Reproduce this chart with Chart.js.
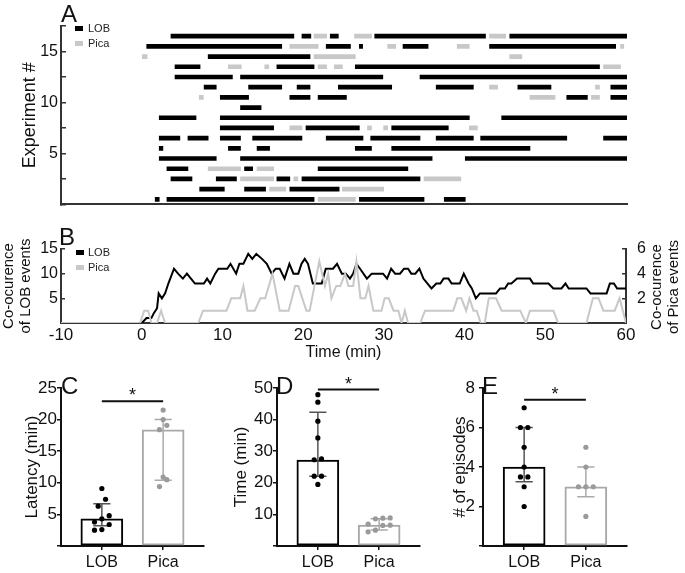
<!DOCTYPE html>
<html>
<head>
<meta charset="utf-8">
<script src="https://cdn.jsdelivr.net/npm/chart.js@4.4.1/dist/chart.umd.min.js"></script>
<style>
  body { margin: 0; background: #fff; }
  #wrap { position: relative; width: 685px; height: 573px; overflow: hidden;
          font-family: 'Liberation Sans', Arial, sans-serif; color: #111; }
  canvas { position: absolute; }
  .letter { position: absolute; font-size: 24px; line-height: 1; }
  .box { position: absolute; width: 8px; height: 5px; }
  .txt { position: absolute; font-size: 11px; line-height: 12px; color: #222; }
  .rtitle { position: absolute; left: 599px; top: 270px; width: 130px; height: 34px;
            font-size: 15px; line-height: 17px; text-align: center; transform: rotate(-90deg); }
</style>
</head>
<body>
<div id="wrap">
  <canvas id="chartA" width="685" height="222" style="left:0;top:0"></canvas>
  <canvas id="chartB" width="685" height="143" style="left:0;top:222px"></canvas>
  <canvas id="chartC" width="225" height="208" style="left:0;top:365px"></canvas>
  <canvas id="chartD" width="215" height="208" style="left:225px;top:365px"></canvas>
  <canvas id="chartE" width="245" height="208" style="left:440px;top:365px"></canvas>

  <div class="letter" style="left:61px;top:2px">A</div>
  <div class="letter" style="left:59px;top:225px">B</div>
  <div class="letter" style="left:61px;top:374px">C</div>
  <div class="letter" style="left:276px;top:374px">D</div>
  <div class="letter" style="left:482px;top:374px">E</div>

  <div class="box" style="left:75px;top:26px;background:#000"></div>
  <div class="txt" style="left:88px;top:22px">LOB</div>
  <div class="box" style="left:75px;top:41px;background:#c8c8c8"></div>
  <div class="txt" style="left:88px;top:37px">Pica</div>

  <div class="box" style="left:76px;top:250px;background:#000"></div>
  <div class="txt" style="left:88px;top:246px">LOB</div>
  <div class="box" style="left:76px;top:265px;background:#c8c8c8"></div>
  <div class="txt" style="left:88px;top:261px">Pica</div>

  <div class="rtitle">Co-ocurence<br>of Pica events</div>
</div>

<script>
// ---- panel A: episodes per experiment, [start, end] in min (index 0 = experiment 1)
const experiments = [1, 2, 3, 4, 5, 6, 7, 8, 9, 10, 11, 12, 13, 14, 15, 16, 17];
const lobEpisodes = [
  [[1.65, 2.15], [3.1, 21.3], [26.9, 34.9], [37.4, 40.0]],
  [[7.15, 10.2], [12.7, 15.3], [18.3, 24.4]],
  [[3.6, 6.2], [9.2, 11.7], [16.7, 18.3], [19.8, 34.4]],
  [[3.1, 5.7], [12.7, 13.7], [21.8, 32.9]],
  [[2.15, 9.2], [12.2, 35.9], [40.0, 60]],
  [[2.15, 2.6], [10.7, 12.2], [14.25, 15.8], [26.4, 28.4], [30.9, 48.0]],
  [[2.15, 4.7], [5.7, 8.2], [9.7, 12.2], [13.7, 19.8], [22.8, 27.35], [28.3, 34.4], [36.4, 41.0], [41.9, 52.55], [57.1, 60]],
  [[9.7, 16.3], [20.3, 26.9], [30.9, 37.9]],
  [[2.15, 6.7], [9.7, 40.5], [44.5, 60]],
  [[12.2, 14.75]],
  [[9.7, 13.2], [18.3, 20.8], [21.8, 25.3], [52.55, 55.1], [58.0, 60]],
  [[7.7, 9.2], [13.2, 17.3], [19.2, 20.8], [24.3, 30.9], [36.4, 41.0], [46.5, 50.6], [58.0, 60]],
  [[4.1, 11.2], [12.2, 29.8], [34.4, 60]],
  [[4.1, 7.2], [16.7, 21.3], [26.4, 56.6]],
  [[8.2, 20.8]],
  [[0.6, 17.3], [22.8, 25.8], [26.9, 27.3], [32.3, 35.4], [43.0, 58.6]],
  [[3.6, 18.8], [19.8, 20.9], [23.3, 24.3], [28.8, 42.5], [45.5, 60]]
];
const picaEpisodes = [
  [[21.8, 26.4]],
  [[15.8, 17.8], [24.8, 29.9]],
  [[12.2, 16.3], [18.8, 19.3], [34.9, 39.45]],
  [[8.2, 12.2], [14.25, 16.3]],
  [],
  [],
  [],
  [[18.3, 19.8], [27.9, 28.4], [29.9, 30.4], [40.5, 41.5]],
  [],
  [],
  [[7.1, 7.6], [48.0, 51.1], [55.6, 56.6]],
  [[43.0, 44.0], [56.1, 56.6]],
  [],
  [[10.7, 12.3], [15.2, 15.7], [21.8, 22.85], [23.8, 24.8], [57.1, 59.2]],
  [[0.05, 0.65], [21.3, 26.4], [45.5, 47.0]],
  [[18.3, 21.8], [30.4, 31.4], [39.0, 40.5], [59.2, 59.6]],
  [[21.3, 22.85], [26.3, 28.4], [43.0, 45.0]]
];

// ---- panel B: co-occurrence counts over time
const lobTime = [-10, 0, 0.6, 1.2, 1.5, 1.9, 2.1, 2.5, 2.9, 3.3,
  4.0, 4.5, 5.1, 5.6, 6.1, 6.6, 7.7, 8.1, 8.5, 9.1,
  9.5, 10.6, 11.0, 11.7, 12.1, 12.6, 13.2, 13.7, 14.2, 14.9,
  15.5, 16.1, 16.6, 17.1, 17.7, 18.3, 18.8, 19.4, 19.8, 20.2,
  20.6, 21.2, 22.3, 22.8, 23.7, 24.2, 24.8, 25.3, 25.8, 26.2,
  26.6, 27.05, 27.9, 28.5, 29.9, 30.4, 30.9, 31.4, 32.0, 32.5,
  33.0, 33.4, 33.9, 34.4, 34.9, 35.9, 36.5, 37.0, 37.4, 38.0,
  38.4, 39.4, 39.9, 40.5, 40.9, 41.4, 41.9, 43.9, 44.4, 45.0,
  45.4, 45.8, 46.5, 48.1, 48.5, 50.4, 51.0, 52.0, 52.5, 52.9,
  55.1, 55.6, 57.6, 58.0, 58.5, 58.9, 60];
const lobCount = [0, 0, 1, 1, 2, 3, 6, 5, 6, 8,
  11, 10, 9, 10, 9, 8, 8, 9, 8, 10,
  11, 11, 12, 10, 12, 12, 14, 13, 14, 13,
  12, 10, 11, 11, 9, 12, 10, 10, 12, 13,
  12, 8, 8, 11, 11, 12, 10, 10, 9, 10,
  12, 11, 9, 10, 10, 9, 11, 10, 10, 11,
  11, 10, 10, 11, 9, 7, 8, 8, 9, 9,
  8, 8, 10, 8, 7, 5, 6, 6, 7, 7,
  8, 8, 9, 9, 8, 8, 7, 7, 8, 7,
  7, 6, 6, 8, 8, 7, 7];
const picaTime = [-10, -0.2, 0.3, 0.8, 1.2, 1.9, 2.4, 2.9, 7.0, 7.6,
  10.5, 11.1, 12.2, 12.6, 13.1, 14.0, 14.7, 15.3, 16.2, 17.1,
  18.2, 19.0, 19.4, 20.4, 20.8, 22.0, 22.7, 23.1, 23.5, 24.1,
  24.6, 25.2, 25.6, 26.2, 26.6, 27.1, 27.7, 28.1, 28.7, 29.7,
  30.1, 30.6, 31.2, 31.8, 32.2, 32.6, 33.0, 34.5, 35.1, 38.6,
  39.1, 39.6, 40.2, 40.6, 41.1, 41.5, 42.0, 42.5, 43.0, 43.9,
  44.6, 46.9, 47.6, 48.1, 51.0, 51.6, 55.1, 55.9, 56.6, 57.2,
  58.6, 59.2, 60];
const picaCount = [0, 0, 1, 1, 0, 0, 1, 0, 0, 1,
  1, 2, 2, 3, 1, 1, 2, 2, 4, 1,
  1, 3, 3, 1, 1, 5, 3, 4, 2, 3,
  3, 4, 3, 3, 5, 2, 2, 3, 1, 1,
  2, 2, 1, 1, 0, 1, 0, 0, 1, 1,
  2, 2, 1, 2, 1, 1, 0, 0, 2, 2,
  1, 1, 0, 1, 1, 0, 0, 2, 2, 1,
  1, 2, 0];

// ---- panels C-E: individual values, median and interquartile range
const groups = ['LOB', 'Pica'];
const latencyLob = [9.1, 7.4, 6.3, 4.8, 4.3, 3.8, 3.4, 2.6, 2.5];
const latencyPica = [21.5, 20.0, 19.1, 18.4, 10.9, 10.5, 9.4];
const latencyMedian = [4.3, 18.4];
const latencyLow = [3.2, 10.4];
const latencyHigh = [6.7, 20.0];
const latencySig = 22.9;

const timeLob = [47.9, 45.5, 39.5, 34.2, 27.6, 27.3, 22.1, 22.1, 19.5];
const timePica = [8.9, 8.8, 8.6, 6.9, 6.6, 6.5, 5.0, 4.5];
const timeMedian = [27.2, 6.6];
const timeLow = [22.1, 5.1];
const timeHigh = [42.3, 8.6];
const timeSig = 49.5;

const episodesLob = [7, 6, 6, 5, 4, 3.5, 3.5, 3, 2];
const episodesPica = [5, 4, 3, 3, 3, 1.5];
const episodesMedian = [4, 3];
const episodesLow = [3.25, 2.5];
const episodesHigh = [6, 4];
const episodesSig = 7.4;

Chart.defaults.font.family = "'Liberation Sans', Arial, sans-serif";
Chart.defaults.color = '#111';
Chart.defaults.animation = false;
Chart.defaults.plugins.legend.display = false;
Chart.defaults.plugins.tooltip.enabled = false;

const axisGray = '#333';
const lobGray = '#c8c8c8';

function episodeBars(list) {
  const out = [];
  list.forEach((eps, i) => eps.forEach(e => out.push({ x: e, y: experiments[i] - 0.5 })));
  return out;
}

function toXY(xs, ys) {
  return xs.map((x, i) => ({ x: x, y: ys[i] }));
}

// spread dots of similar value sideways
function swarm(vals, tol, dx) {
  const idx = vals.map((v, i) => i).sort((a, b) => vals[a] - vals[b]);
  const off = new Array(vals.length).fill(0);
  let i = 0;
  while (i < idx.length) {
    let j = i;
    while (j + 1 < idx.length && vals[idx[j + 1]] - vals[idx[i]] < tol) j++;
    const n = j - i + 1;
    for (let k = 0; k < n; k++) off[idx[i + k]] = (k - (n - 1) / 2) * dx;
    i = j + 1;
  }
  return off;
}

const starPlugin = {
  id: 'sigStar',
  afterDatasetsDraw(chart, args, opts) {
    if (opts.y == null) return;
    const ctx = chart.ctx;
    const x = chart.scales.x.getPixelForValue(opts.x);
    const y = chart.scales.y.getPixelForValue(opts.y);
    ctx.save();
    ctx.fillStyle = '#111';
    ctx.font = "18px 'Liberation Sans', Arial, sans-serif";
    ctx.textAlign = 'center';
    ctx.textBaseline = 'middle';
    ctx.fillText('*', x, y - 5);
    ctx.restore();
  }
};

// A
new Chart(document.getElementById('chartA'), {
  type: 'bar',
  data: {
    datasets: [
      { label: 'LOB', data: episodeBars(lobEpisodes), backgroundColor: '#000', grouped: false, barThickness: 4, borderWidth: 0 },
      { label: 'Pica', data: episodeBars(picaEpisodes), backgroundColor: lobGray, grouped: false, barThickness: 4, borderWidth: 0 }
    ]
  },
  options: {
    indexAxis: 'y',
    responsive: false,
    layout: { padding: { top: 26, right: 58, left: 0, bottom: 0 } },
    scales: {
      x: {
        type: 'linear', min: -10, max: 60, offset: false,
        grid: { drawOnChartArea: false, drawTicks: false, offset: false },
        ticks: { display: false },
        border: { color: axisGray, width: 2 },
        afterFit: s => { s.height = 9; }
      },
      y: {
        type: 'linear', min: 0, max: 17.5, offset: false,
        ticks: { stepSize: 2.5, callback: v => (v > 0 && v % 5 === 0) ? v : '', font: { size: 16 }, padding: 8 },
        grid: { drawOnChartArea: false, tickLength: -5, color: axisGray, lineWidth: 1.5, offset: false },
        border: { color: axisGray, width: 2 },
        title: { display: true, text: 'Experiment #', font: { size: 18 }, padding: { top: 19, bottom: 0 } },
        afterFit: s => { s.width = 61; }
      }
    }
  }
});

// B
new Chart(document.getElementById('chartB'), {
  type: 'line',
  data: {
    datasets: [
      { label: 'Pica', data: toXY(picaTime, picaCount), yAxisID: 'y1', borderColor: lobGray, borderWidth: 2, pointRadius: 0, order: 0 },
      { label: 'LOB', data: toXY(lobTime, lobCount), yAxisID: 'y', borderColor: '#000', borderWidth: 2, pointRadius: 0, order: 1 }
    ]
  },
  options: {
    responsive: false,
    layout: { padding: { top: 27, right: 0, left: 0, bottom: 0 } },
    scales: {
      x: {
        type: 'linear', min: -10, max: 60,
        ticks: { stepSize: 10, font: { size: 17 }, padding: 2 },
        grid: { drawOnChartArea: false, drawTicks: false },
        border: { color: axisGray, width: 2 },
        title: { display: true, text: 'Time (min)', font: { size: 16 }, padding: { top: 0, bottom: 3 } },
        afterFit: s => { s.height = 42; }
      },
      y: {
        position: 'left', min: 0, max: 15,
        ticks: { stepSize: 5, callback: v => v === 0 ? '' : v, font: { size: 16 }, padding: 7 },
        grid: { drawOnChartArea: false, tickLength: -4, color: axisGray, lineWidth: 1.5 },
        border: { color: axisGray, width: 2 },
        title: { display: true, text: ['Co-ocurence', 'of LOB events'], font: { size: 15, lineHeight: 1.133 }, padding: { top: 0.5, bottom: 0 } },
        afterFit: s => { s.width = 61; }
      },
      y1: {
        position: 'right', min: 0, max: 6,
        ticks: { stepSize: 2, callback: v => v === 0 ? '' : v, font: { size: 16 }, padding: 15 },
        grid: { drawOnChartArea: false, tickLength: -4, color: axisGray, lineWidth: 1.5 },
        border: { color: axisGray, width: 2 },
        afterFit: s => { s.width = 59; }
      }
    }
  }
});

// C, D, E
function dotPanel(id, p) {
  const cap = 0.14;
  const whisker = (g, lo, hi) => [
    { x: g - cap, y: hi }, { x: g + cap, y: hi }, { x: g, y: null },
    { x: g, y: hi }, { x: g, y: lo }, { x: g, y: null },
    { x: g - cap, y: lo }, { x: g + cap, y: lo }
  ];
  const dots = (g, vals) => {
    const off = swarm(vals, p.max * 0.045, 0.12);
    return vals.map((v, i) => ({ x: g + off[i], y: v }));
  };
  const canvas = document.getElementById(id);
  new Chart(canvas, {
    type: 'bar',
    data: {
      datasets: [
        { type: 'line', data: [{ x: 1, y: p.sig }, { x: 2, y: p.sig }], borderColor: '#111', borderWidth: 2, pointRadius: 0, order: 0 },
        { type: 'scatter', data: dots(1, p.lob), pointRadius: 2.6, pointBackgroundColor: '#000', pointBorderWidth: 0, order: 1 },
        { type: 'scatter', data: dots(2, p.pica), pointRadius: 2.6, pointBackgroundColor: '#9a9a9a', pointBorderWidth: 0, order: 1 },
        { type: 'line', data: whisker(1, p.low[0], p.high[0]), borderColor: '#555', borderWidth: 1.5, pointRadius: 0, order: 2 },
        { type: 'line', data: whisker(2, p.low[1], p.high[1]), borderColor: '#aaa', borderWidth: 1.5, pointRadius: 0, order: 2 },
        { type: 'bar', data: [{ x: 1, y: p.median[0] }, { x: 2, y: p.median[1] }], backgroundColor: '#fff',
          borderColor: ['#000', '#a8a8a8'], borderWidth: 2, borderSkipped: false, barThickness: 42, order: 3 }
      ]
    },
    options: {
      responsive: false,
      layout: { padding: { top: 23, right: p.padRight, left: 0, bottom: 0 } },
      plugins: { sigStar: { x: 1.5, y: p.sig } },
      scales: {
        x: {
          type: 'linear', min: 1 / 3, max: 8 / 3, offset: false,
          afterBuildTicks: s => { s.ticks = [{ value: 1 }, { value: 2 }]; },
          ticks: { callback: v => groups[v - 1], font: { size: 16 }, padding: 3 },
          grid: { drawOnChartArea: false, tickLength: 4, color: '#111', lineWidth: 1.5, offset: false },
          border: { color: '#111', width: 2 },
          afterFit: s => { s.height = 27; }
        },
        y: {
          min: 0, max: p.max,
          ticks: { stepSize: p.step, callback: v => v === 0 ? '' : v, font: { size: 17 }, padding: p.labelPad },
          grid: { drawOnChartArea: false, tickLength: 4, color: '#111', lineWidth: 1.5 },
          border: { color: '#111', width: 2 },
          title: { display: true, text: p.title, font: { size: 17 }, padding: { top: p.titlePad, bottom: 0 } },
          afterFit: s => { s.width = p.axisLeft; }
        }
      }
    },
    plugins: [starPlugin]
  });
}

dotPanel('chartC', { lob: latencyLob, pica: latencyPica, median: latencyMedian, low: latencyLow, high: latencyHigh,
  sig: latencySig, max: 25, step: 5, title: 'Latency (min)', titlePad: 22, axisLeft: 61, padRight: 21, labelPad: 0 });
dotPanel('chartD', { lob: timeLob, pica: timePica, median: timeMedian, low: timeLow, high: timeHigh,
  sig: timeSig, max: 50, step: 10, title: 'Time (min)', titlePad: 6, axisLeft: 52, padRight: 20, labelPad: 0 });
dotPanel('chartE', { lob: episodesLob, pica: episodesPica, median: episodesMedian, low: episodesLow, high: episodesHigh,
  sig: episodesSig, max: 8, step: 2, title: '# of episodes', titlePad: 10, axisLeft: 43, padRight: 58, labelPad: 4 });
</script>
</body>
</html>
